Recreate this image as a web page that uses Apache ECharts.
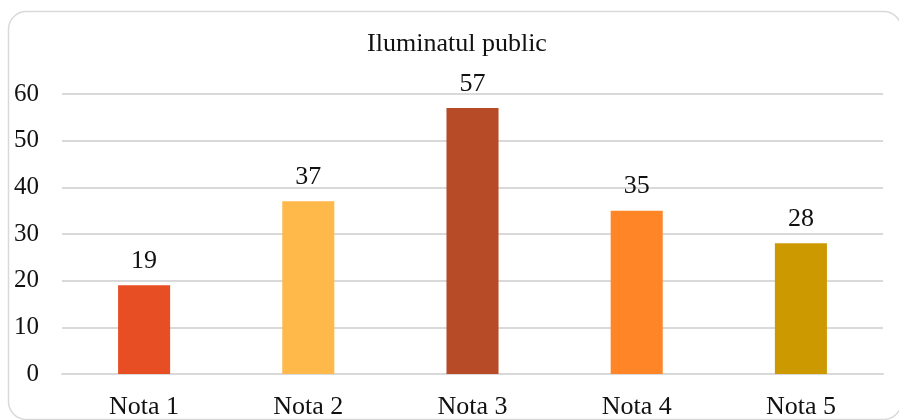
<!DOCTYPE html>
<html><head><meta charset="utf-8">
<script src="https://cdn.jsdelivr.net/npm/echarts@6/dist/echarts.min.js"></script>
<style>html,body{margin:0;padding:0;background:#fff}#c{width:899px;height:420px}</style>
</head><body><div id="c"></div>
<script>
const title = 'Iluminatul public';
const categories = ['Nota 1', 'Nota 2', 'Nota 3', 'Nota 4', 'Nota 5'];
const values = [19, 37, 57, 35, 28];
const barColors = ['#E84E24', '#FFB84A', '#B74A27', '#FF8527', '#CC9900'];
const yTicks = { min: 0, max: 60, interval: 10 };

const font = '"Liberation Serif", "Times New Roman", serif';
const chart = echarts.init(document.getElementById('c'), null, { renderer: 'canvas' });
chart.setOption({
  animation: false,
  backgroundColor: '#fff',
  graphic: [{
    type: 'rect', z: -1,
    shape: { x: 8.5, y: 11.5, width: 893, height: 408, r: 18 },
    style: { fill: 'none', stroke: '#D9D9D9', lineWidth: 1.5 }
  }],
  title: {
    text: title, left: 457, textAlign: 'center', top: 31, padding: 0,
    textStyle: { fontFamily: font, fontSize: 26, fontWeight: 'normal', color: '#111' }
  },
  grid: { left: 62, right: 16, top: 94, bottom: 43, containLabel: false },
  xAxis: {
    type: 'category', data: categories,
    axisLine: { show: true, lineStyle: { color: '#D9D9D9', width: 2 } },
    axisTick: { show: false },
    axisLabel: { fontFamily: font, fontSize: 26, color: '#111', margin: 20 }
  },
  yAxis: {
    type: 'value', min: yTicks.min, max: yTicks.max, interval: yTicks.interval,
    axisLine: { show: false }, axisTick: { show: false },
    splitLine: { lineStyle: { color: '#D9D9D9', width: 2 } },
    axisLabel: { fontFamily: font, fontSize: 25, color: '#111', margin: 23 }
  },
  series: [{
    type: 'bar',
    data: values.map((v, i) => ({ value: v, itemStyle: { color: barColors[i] } })),
    barWidth: '31.7%',
    label: { show: true, position: 'top', distance: 11, fontFamily: font, fontSize: 26, color: '#111' }
  }]
});
</script></body></html>
